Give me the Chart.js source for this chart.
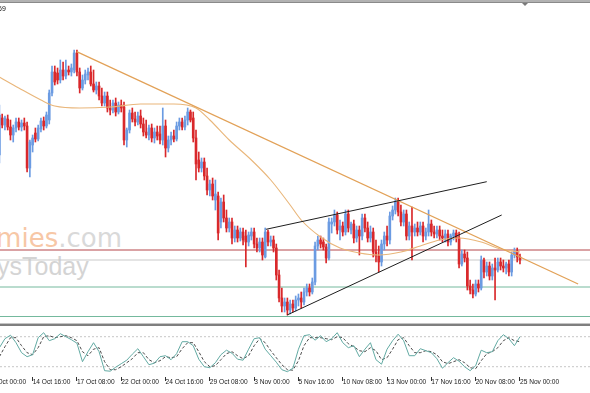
<!DOCTYPE html>
<html>
<head>
<meta charset="utf-8">
<script src="https://cdn.jsdelivr.net/npm/chart.js@4.4.1/dist/chart.umd.min.js"></script>
<style>
  html, body { margin: 0; padding: 0; background: #fff; }
  #wrap { position: relative; width: 590px; height: 393px; overflow: hidden; background: #fff; }
  canvas { position: absolute; left: 0; }
  #priceCanvas { top: 0; }
  #stochCanvas { top: 326px; }
  .wm { position: absolute; white-space: nowrap; }
  #wm1 { right: 468px; top: 225px; font: 26px/26px 'DejaVu Sans', sans-serif; }
  #wm2 { left: -3px; top: 254px; font: 25px/25px 'Liberation Sans', Arial, sans-serif; color: #d4d4d4; }
  #topBar { position: absolute; left: 0; top: 0; width: 590px; height: 2px; background: #b2b2b2; border-bottom: 1px solid #8a8a8a; }
  #sep { position: absolute; left: 0; top: 323px; width: 590px; height: 2px; background: #7f7f7f; border-top: 1px solid #c4c4c4; }
  #title { position: absolute; left: -2px; top: 5px; font: 7px/7px 'Liberation Sans', sans-serif; color: #111; white-space: nowrap; }
  #shift { position: absolute; left: 522px; top: 3px; width: 0; height: 0;
           border-left: 3px solid transparent; border-right: 3px solid transparent; border-top: 3px solid #7a7a7a; }
</style>
</head>
<body>
<div id="wrap">
  <div class="wm" id="wm1"><span style="color:#f7c7a6">nomies</span><span style="color:#d9d9d9">.com</span></div>
  <div class="wm" id="wm2">ysToday</div>
  <canvas id="priceCanvas" width="590" height="323"></canvas>
  <canvas id="stochCanvas" width="590" height="67"></canvas>
  <div id="topBar"></div>
  <div id="sep"></div>
  <div id="title">69</div>
  <div id="shift"></div>
</div>
<script>
// H4 candles, one entry per bar (price points)
const opens = [
  245,282,275,281,273,265,272,278,273,277,
  274,232,255,267,261,271,279,274,280,307,
  328,327,320,330,324,330,328,330,347,328,
  312,320,325,328,316,310,314,304,297,304,
  292,290,297,288,295,293,260,270,287,281,
  278,284,276,268,265,272,262,268,266,260,
  274,252,260,264,261,274,278,273,280,288,
  282,262,240,232,238,224,210,216,200,204,
  178,198,182,172,178,162,170,162,168,164,
  158,164,168,156,152,158,143,168,158,160,
  152,125,102,94,98,90,96,92,100,102,
  98,108,112,108,118,154,160,158,153,142,
  176,178,185,170,174,168,186,170,176,162,
  170,164,182,172,162,168,148,144,138,156,
  164,160,184,190,198,188,178,186,164,174,
  168,172,168,174,164,168,176,168,166,170,
  164,162,166,158,164,167,162,136,146,142,
  114,110,106,116,112,140,128,134,124,132,
  130,138,134,132,136,128,145,149,143
];
const highs = [
  295,286,284,285,280,275,282,282,280,282,
  278,260,265,272,275,282,283,288,310,334,
  334,332,340,338,340,334,336,350,350,332,
  325,330,332,334,330,318,318,312,308,308,
  300,300,302,298,300,298,272,290,292,288,
  288,290,282,280,275,276,272,274,274,292,
  280,264,268,270,278,282,282,284,292,290,
  288,270,248,242,242,232,220,222,220,208,
  202,205,190,182,182,174,174,172,172,170,
  168,172,172,162,162,162,172,170,164,164,
  156,130,112,102,102,100,100,104,106,108,
  112,116,116,122,158,164,164,162,156,182,
  182,190,188,180,178,190,190,178,180,174,
  174,186,186,178,174,172,160,154,160,168,
  174,188,194,202,202,195,190,190,178,193,
  176,178,178,178,172,190,180,174,174,174,
  170,170,170,166,170,170,168,150,150,148,
  120,116,120,120,144,142,138,138,136,142,
  142,142,140,138,140,148,152,152,146
];
const lows = [
  237,272,270,270,260,258,268,270,269,270,
  228,223,248,258,259,268,270,272,276,304,
  315,316,317,320,321,325,324,327,324,307,
  310,316,320,314,308,306,300,294,294,288,
  285,287,284,286,288,255,253,267,278,274,
  275,272,264,262,260,258,257,260,256,255,
  243,248,255,258,259,270,270,270,275,278,
  258,220,228,228,220,205,204,200,190,160,
  172,178,168,168,156,158,158,159,155,133,
  154,160,152,148,148,140,142,154,154,148,
  120,98,88,88,85,86,88,89,94,92,
  95,104,104,106,115,150,152,150,137,140,
  167,174,166,160,164,165,168,166,157,158,
  145,160,168,158,158,143,138,128,134,150,
  154,156,180,186,184,174,174,160,160,140,
  164,164,165,158,160,164,164,162,162,160,
  158,158,154,155,160,158,132,134,138,110,
  106,102,104,108,110,122,124,120,120,100,
  128,130,128,126,124,124,142,138,136
];
const closes = [
  285,275,282,273,265,272,278,273,277,274,
  232,258,262,261,272,279,274,285,307,328,
  318,320,330,324,330,328,332,347,328,312,
  320,326,328,316,310,314,304,297,304,292,
  290,297,288,295,292,260,270,287,281,278,
  284,276,268,265,272,262,268,264,260,274,
  252,260,264,261,274,278,273,280,288,280,
  262,236,232,238,224,210,216,204,206,167,
  198,182,172,178,162,170,162,168,160,158,
  165,168,156,152,158,145,168,158,160,152,
  125,102,94,98,90,96,92,100,102,98,
  108,112,108,118,154,160,156,153,142,178,
  178,185,170,174,168,186,172,176,162,170,
  164,182,172,162,168,148,144,138,156,164,
  160,184,190,198,188,178,186,164,174,168,
  172,168,174,164,168,176,168,166,170,164,
  162,166,158,164,167,162,136,146,142,114,
  110,106,116,112,140,128,134,124,132,130,
  138,134,132,136,128,145,149,143,140
];

// time axis
const tickBars = [-4, 12, 28, 44, 60, 76, 92, 108, 124, 140, 156, 172, 188];
const tickLabels = ['10 Oct 00:00', '14 Oct 16:00', '17 Oct 08:00', '22 Oct 00:00', '24 Oct 16:00',
  '29 Oct 08:00', '3 Nov 00:00', '5 Nov 16:00', '10 Nov 08:00', '13 Nov 00:00',
  '17 Nov 16:00', '20 Nov 08:00', '25 Nov 00:00'];

// moving average
const maBars = [0, 7, 15, 20, 29, 40, 51, 63, 71, 76, 83, 91, 98, 105, 109, 116, 123, 130, 137, 145, 152, 159, 166, 174, 181, 188];
const maValues = [323, 312, 300, 294, 292, 293, 296, 296, 292, 280, 260, 240, 220, 195, 180, 163, 152, 147, 145, 148, 154, 160, 162, 158, 151, 148];

// drawn objects: trend line, wedge, horizontal levels
const trendBars = [27.9, 209];
const trendPrices = [348.3, 116];
const wedgeTopBars = [96.3, 176];
const wedgeTopPrices = [170.7, 218.3];
const wedgeLowBars = [103.9, 181.4];
const wedgeLowPrices = [85, 185];
const levelPrices = [150, 140, 113, 83.5];

// stochastic oscillator, sampled every 2 bars
const stochStep = 2;
const stochK = [
  58,76,83,68,48,40,44,78,88,72,
  76,86,80,74,67,30,50,68,50,12,
  11,19,26,33,45,56,40,24,27,40,
  42,34,46,70,70,62,35,20,18,28,
  44,53,47,35,33,55,76,78,55,42,
  29,14,10,17,55,82,84,73,82,70,
  76,88,68,58,62,40,55,68,34,25,
  55,72,85,72,42,42,56,52,48,36,
  17,28,38,31,20,12,22,53,48,50,
  72,84,76,62,80
];
const stochD = [
  40,60,78,78,62,48,44,58,80,82,
  78,80,82,78,72,50,42,55,58,30,
  14,14,20,28,36,48,48,34,28,32,
  40,38,40,56,68,68,50,30,20,22,
  34,46,50,42,36,42,62,76,68,52,
  38,24,14,13,32,62,78,78,78,76,
  74,80,78,66,60,52,50,58,52,34,
  38,55,74,78,62,48,48,52,50,44,
  30,26,30,34,28,18,16,32,46,50,
  58,72,78,72,70
];
const stochLevels = [80, 20];

// visible bar range (bar 0 sits just left of the edge)
const X_MIN = 0.2167;
const X_MAX = 213.29;

const bullColor = '#6b9be2';
const bearColor = '#d9282b';
const levelColors = ['#b5474b', '#c9c9c9', '#74b99d', '#74b99d'];
const candleColors = closes.map((c, i) => c >= opens[i] ? bullColor : bearColor);

const pts = (xs, ys) => xs.map((x, i) => ({ x: x, y: ys[i] }));

const baseOptions = {
  responsive: false,
  animation: false,
  events: [],
  layout: { padding: 0 },
  plugins: { legend: { display: false }, tooltip: { enabled: false } }
};

// Price panel
new Chart(document.getElementById('priceCanvas'), {
  type: 'line',
  data: {
    datasets: [
      ...levelPrices.map((p, k) => ({
        data: [{ x: X_MIN, y: p }, { x: X_MAX, y: p }],
        borderColor: levelColors[k], borderWidth: 1, pointRadius: 0, order: 6
      })),
      {
        type: 'bar',
        data: highs.map((h, i) => ({ x: i, y: [lows[i], h] })),
        backgroundColor: candleColors, barThickness: 1, grouped: false, order: 5
      },
      {
        type: 'bar',
        data: opens.map((o, i) => ({ x: i, y: [o, closes[i]] })),
        backgroundColor: candleColors, barThickness: 2, grouped: false, minBarLength: 1, order: 4
      },
      {
        data: pts(maBars, maValues),
        borderColor: '#e9b67a', borderWidth: 1.1, pointRadius: 0,
        cubicInterpolationMode: 'monotone', order: 3
      },
      {
        data: pts(trendBars, trendPrices),
        borderColor: '#e2a157', borderWidth: 1.3, pointRadius: 0, order: 2
      },
      {
        data: pts(wedgeTopBars, wedgeTopPrices),
        borderColor: '#1e1e1e', borderWidth: 1, pointRadius: 0, order: 1
      },
      {
        data: pts(wedgeLowBars, wedgeLowPrices),
        borderColor: '#1e1e1e', borderWidth: 1, pointRadius: 0, order: 1
      }
    ]
  },
  options: {
    ...baseOptions,
    scales: {
      x: { type: 'linear', min: X_MIN, max: X_MAX, offset: false, display: false },
      y: { type: 'linear', min: 77, max: 400, display: false }
    }
  }
});

// Stochastic panel with the time axis
new Chart(document.getElementById('stochCanvas'), {
  type: 'line',
  data: {
    datasets: [
      ...stochLevels.map(v => ({
        data: [{ x: X_MIN, y: v }, { x: X_MAX, y: v }],
        borderColor: '#c6c6c6', borderDash: [2, 2], borderWidth: 1, pointRadius: 0, order: 3
      })),
      {
        data: stochD.map((v, i) => ({ x: i * stochStep, y: v })),
        borderColor: '#4b4b4b', borderDash: [3, 2], borderWidth: 1, pointRadius: 0, order: 2
      },
      {
        data: stochK.map((v, i) => ({ x: i * stochStep, y: v })),
        borderColor: '#62aaa3', borderWidth: 1, pointRadius: 0, order: 1
      }
    ]
  },
  options: {
    ...baseOptions,
    scales: {
      x: {
        type: 'linear', min: X_MIN, max: X_MAX, offset: false, position: 'bottom',
        afterBuildTicks: s => { s.ticks = tickBars.map(v => ({ value: v })); },
        afterFit: s => { s.height = 16; s.paddingLeft = 0; s.paddingRight = 0; },
        ticks: {
          autoSkip: false, maxRotation: 0, minRotation: 0, align: 'start', padding: -2.3,
          color: '#1a1a1a',
          font: { family: "'Liberation Sans', Arial, sans-serif", size: 6.6 },
          callback: (v, i) => tickLabels[i]
        },
        grid: { drawOnChartArea: false, drawTicks: true, tickLength: 4, tickColor: '#333', color: '#333' },
        border: { display: false }
      },
      y: { type: 'linear', min: -0.6, max: 101.4, display: false }
    }
  }
});
</script>
</body>
</html>
